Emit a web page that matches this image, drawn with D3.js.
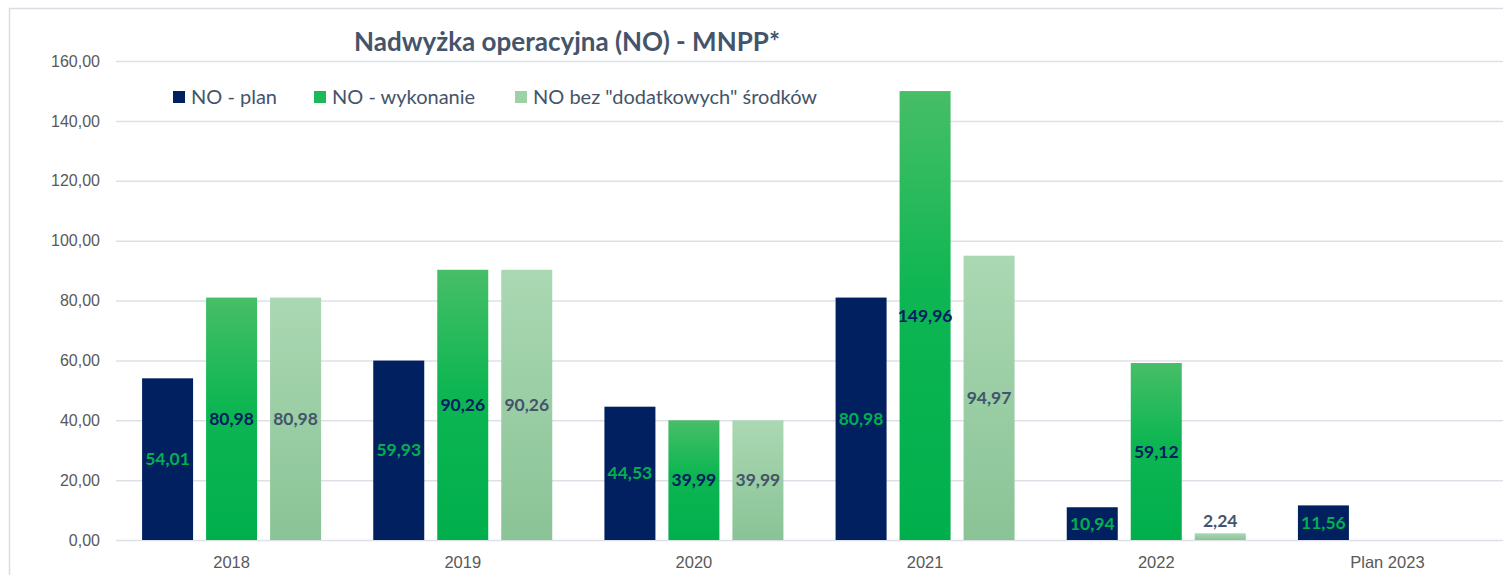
<!DOCTYPE html>
<html>
<head>
<meta charset="utf-8">
<script src="https://cdn.jsdelivr.net/npm/d3@7"></script>
<style>
  body { margin: 0; background: #fff; }
  svg { display: block; font-family: Lato, "Open Sans", sans-serif; }
</style>
</head>
<body>
<div id="chart"></div>
<script>
// data
const categories = ['2018', '2019', '2020', '2021', '2022', 'Plan 2023'];
const seriesNames = ['NO - plan', 'NO - wykonanie', 'NO bez "dodatkowych" środków'];
const planValues = [54.01, 59.93, 44.53, 80.98, 10.94, 11.56];
const wykonanieValues = [80.98, 90.26, 39.99, 149.96, 59.12, null];
const bezDodatkowychValues = [80.98, 90.26, 39.99, 94.97, 2.24, null];
const yTicks = [0, 20, 40, 60, 80, 100, 120, 140, 160];

const width = 1503, height = 575;
const margin = { top: 61, right: 0, bottom: 35, left: 116 };

const svg = d3.select('#chart').append('svg')
  .attr('width', width)
  .attr('height', height);

// gradients
const defs = svg.append('defs');
const g1 = defs.append('linearGradient').attr('id', 'gGreen').attr('x1', 0).attr('y1', 0).attr('x2', 0).attr('y2', 1);
g1.append('stop').attr('offset', '0%').attr('stop-color', '#47BE67');
g1.append('stop').attr('offset', '45%').attr('stop-color', '#0DB652');
g1.append('stop').attr('offset', '100%').attr('stop-color', '#00AF4C');
const g2 = defs.append('linearGradient').attr('id', 'gLight').attr('x1', 0).attr('y1', 0).attr('x2', 0).attr('y2', 1);
g2.append('stop').attr('offset', '0%').attr('stop-color', '#AAD8B2');
g2.append('stop').attr('offset', '100%').attr('stop-color', '#8AC396');

const series = [
  { name: seriesNames[0], values: planValues, fill: '#002060', legend: '#002060', label: '#00B050' },
  { name: seriesNames[1], values: wykonanieValues, fill: 'url(#gGreen)', legend: '#1DB859', label: '#002060' },
  { name: seriesNames[2], values: bezDodatkowychValues, fill: 'url(#gLight)', legend: '#9FD1A8', label: '#44546A' }
];

// outer frame
svg.append('path')
  .attr('d', `M9.5,${height} V8.5 H${width}`)
  .attr('fill', 'none')
  .attr('stroke', '#D9DDE3')
  .attr('stroke-width', 1.5);

const x = d3.scaleBand()
  .domain(categories)
  .range([margin.left, width - margin.right])
  .paddingInner(0)
  .paddingOuter(0);

const y = d3.scaleLinear()
  .domain([0, 160])
  .range([height - margin.bottom, margin.top]);

// gridlines
const yAxis = d3.axisLeft(y)
  .tickValues(yTicks)
  .tickSize(-(width - margin.right - margin.left))
  .tickPadding(16)
  .tickFormat(d => d3.format('.2f')(d).replace('.', ','));

const gy = svg.append('g')
  .attr('transform', `translate(${margin.left},0)`)
  .call(yAxis);
gy.select('.domain').remove();
gy.selectAll('.tick line').attr('stroke', '#DDE1E7').attr('stroke-width', 1.5);
gy.selectAll('.tick text')
  .attr('fill', '#595959')
  .attr('font-size', 16);

// bars
const barW = 51, barStep = 64;
const inner = d3.scaleBand()
  .domain(series.map((s, i) => i))
  .range([x.bandwidth() / 2 - barStep * 1.5, x.bandwidth() / 2 + barStep * 1.5])
  .paddingInner((barStep - barW) / barStep)
  .paddingOuter((barStep - barW) / barStep / 2);

series.forEach((s, si) => {
  const grp = svg.append('g');
  const data = categories.map((c, i) => ({ c, v: s.values[i] })).filter(d => d.v != null);
  grp.selectAll('rect')
    .data(data)
    .enter()
    .append('rect')
    .attr('x', d => x(d.c) + inner(si))
    .attr('width', inner.bandwidth())
    .attr('y', d => y(d.v))
    .attr('height', d => y(0) - y(d.v))
    .attr('fill', s.fill);

  grp.selectAll('text')
    .data(data)
    .enter()
    .append('text')
    .attr('x', d => x(d.c) + inner(si) + inner.bandwidth() / 2)
    .attr('y', d => {
      const h = y(0) - y(d.v);
      return h < 20 ? y(d.v) - 12 : (y(d.v) + y(0)) / 2;
    })
    .attr('dy', '0.35em')
    .attr('text-anchor', 'middle')
    .attr('font-size', 17.5)
    .attr('font-weight', 'bold')
    .attr('fill', s.label)
    .text(d => d3.format('.2f')(d.v).replace('.', ','));
});

// x labels
const xAxis = d3.axisBottom(x).tickSize(0).tickPadding(16);
const gx = svg.append('g')
  .attr('transform', `translate(0,${y(0)})`)
  .call(xAxis);
gx.select('.domain').remove();
gx.selectAll('.tick text')
  .attr('fill', '#595959')
  .attr('font-size', 16.5);

// title
svg.append('text')
  .attr('x', 567)
  .attr('y', 51)
  .attr('text-anchor', 'middle')
  .attr('font-size', 26)
  .attr('font-weight', 'bold')
  .attr('fill', '#44546A')
  .text('Nadwyżka operacyjna (NO) - MNPP*');

// legend
const legendX = [173, 314, 515];
const legend = svg.append('g');
series.forEach((s, i) => {
  legend.append('rect')
    .attr('x', legendX[i])
    .attr('y', 91)
    .attr('width', 12)
    .attr('height', 12)
    .attr('fill', s.legend);
  legend.append('text')
    .attr('x', legendX[i] + 18)
    .attr('y', 104)
    .attr('font-size', 20)
    .attr('fill', '#44546A')
    .text(s.name);
});
</script>
</body>
</html>
